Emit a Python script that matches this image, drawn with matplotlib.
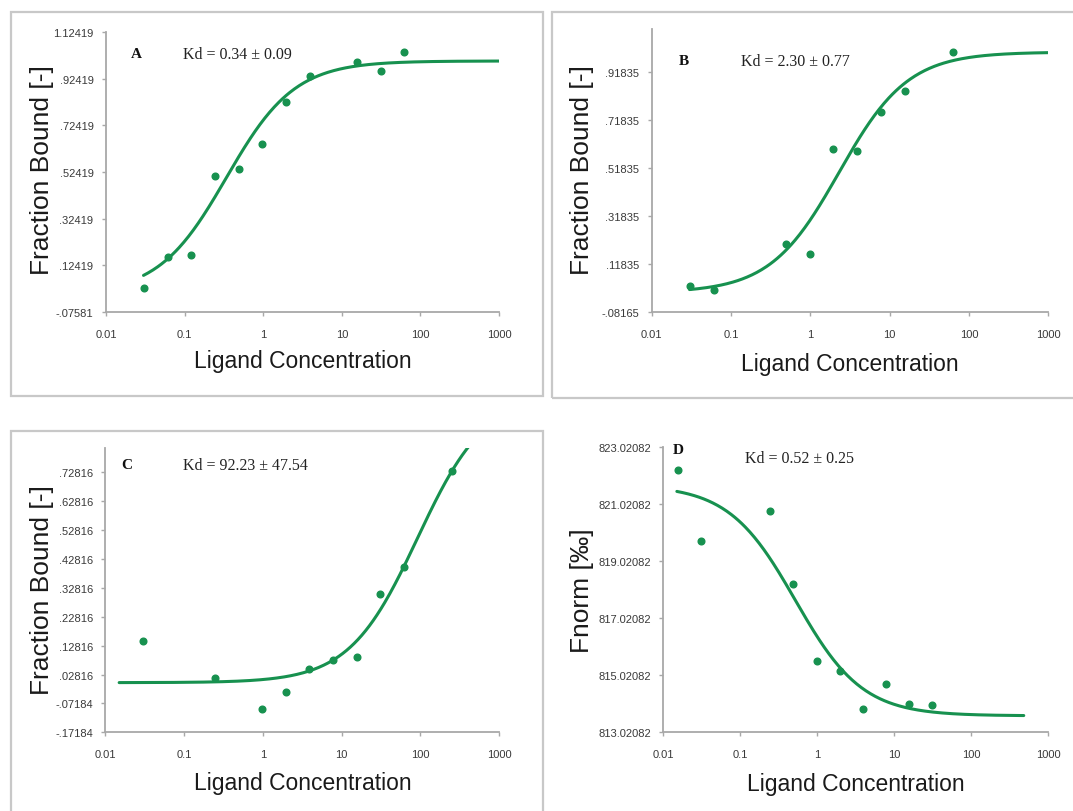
import numpy as np
import matplotlib
matplotlib.use('Agg')
import matplotlib.pyplot as plt
from matplotlib.patches import Rectangle
from matplotlib.ticker import NullLocator

# Figure size in pixels (dpi 100)
W, H = 1073, 812

# Ligand concentrations and responses
conc_a = [0.0305, 0.061, 0.122, 0.244, 0.488, 0.977, 1.95, 3.9, 15.6, 31.25, 62.5]
frac_a = [0.027, 0.158, 0.168, 0.508, 0.537, 0.645, 0.826, 0.934, 0.994, 0.955, 1.039]

conc_b = [0.0305, 0.061, 0.488, 0.977, 1.95, 3.9, 7.8, 15.6, 62.5]
frac_b = [0.027, 0.012, 0.201, 0.162, 0.597, 0.588, 0.752, 0.837, 1.002]

conc_c = [0.0305, 0.244, 0.977, 1.95, 3.9, 7.8, 15.6, 31.25, 62.5, 250]
frac_c = [0.144, 0.015, -0.09, -0.031, 0.047, 0.077, 0.09, 0.308, 0.40, 0.731]

conc_d = [0.0153, 0.0305, 0.244, 0.488, 0.977, 1.95, 3.9, 7.8, 15.6, 31.25]
fnorm_d = [822.23, 819.72, 820.78, 818.22, 815.53, 815.17, 813.83, 814.71, 814.01, 813.99]

# Fit parameters: (Kd, unbound level, saturated level, first conc, last conc)
fit_a = (0.34, 0.0, 1.0, 0.03, 1000)
fit_b = (2.30, 0.0, 1.0, 0.03, 1000)
fit_c = (92.23, 0.0, 1.0, 0.015, 1000)
fit_d = (0.52, 821.7, 813.6, 0.015, 480)

kd_text = ['Kd = 0.34 ± 0.09', 'Kd = 2.30 ± 0.77', 'Kd = 92.23 ± 47.54', 'Kd = 0.52 ± 0.25']
panel_names = ['A', 'B', 'C', 'D']

x_ticks = [0.01, 0.1, 1, 10, 100, 1000]
x_tick_labels = ['0.01', '0.1', '1', '10', '100', '1000']

yt_a = [-0.07581, 0.12419, 0.32419, 0.52419, 0.72419, 0.92419, 1.12419]
ytl_a = ['-.07581', '.12419', '.32419', '.52419', '.72419', '.92419', '1.12419']
yt_b = [-0.08165, 0.11835, 0.31835, 0.51835, 0.71835, 0.91835]
ytl_b = ['-.08165', '.11835', '.31835', '.51835', '.71835', '.91835']
yt_c = [-0.17184, -0.07184, 0.02816, 0.12816, 0.22816, 0.32816, 0.42816, 0.52816, 0.62816, 0.72816]
ytl_c = ['-.17184', '-.07184', '.02816', '.12816', '.22816', '.32816', '.42816', '.52816', '.62816', '.72816']
yt_d = [813.02082, 815.02082, 817.02082, 819.02082, 821.02082, 823.02082]
ytl_d = ['813.02082', '815.02082', '817.02082', '819.02082', '821.02082', '823.02082']

GREEN = '#17914f'
AXCOL = '#a8a8a8'
TXT = '#3a3a3a'

fig = plt.figure(figsize=(W / 100, H / 100), dpi=100)


def px_axes(l, t, r, b):
    return fig.add_axes([l / W, 1 - b / H, (r - l) / W, (b - t) / H])


def ftext(x, y, s, **kw):
    fig.text(x / W, 1 - y / H, s, **kw)


def binding(fit):
    kd, y0, y1, x0, x1 = fit
    x = np.logspace(np.log10(x0), np.log10(x1), 300)
    return x, y0 + (y1 - y0) * x / (x + kd)


def panel(box, conc, vals, fit, yt, ytl, ylim):
    ax = px_axes(*box)
    xs, ys = binding(fit)
    ax.plot(xs, ys, color=GREEN, lw=2.2, solid_capstyle='round')
    ax.plot(conc, vals, 'o', color=GREEN, ms=4.8, mec=GREEN)
    ax.set_xscale('log')
    ax.set_xlim(0.01, 1000)
    ax.set_ylim(*ylim)
    ax.set_xticks(x_ticks)
    ax.set_xticklabels(x_tick_labels)
    ax.xaxis.set_minor_locator(NullLocator())
    ax.set_yticks(yt)
    ax.set_yticklabels(ytl)
    for s in ['top', 'right']:
        ax.spines[s].set_visible(False)
    for s in ['left', 'bottom']:
        ax.spines[s].set_color(AXCOL)
        ax.spines[s].set_linewidth(1.3)
    ax.tick_params(direction='out', length=3, width=1, color=AXCOL,
                   labelcolor=TXT, labelsize=8)
    ax.tick_params(axis='x', pad=9)
    ax.tick_params(axis='y', pad=6)
    for lab in ax.get_xticklabels() + ax.get_yticklabels():
        lab.set_family('Liberation Sans')
    ax.patch.set_alpha(0)
    return ax


panel((106, 33, 499, 313), conc_a, frac_a, fit_a, yt_a, ytl_a, (-0.07581, 1.12419))
panel((651.7, 30, 1048.3, 313.3), conc_b, frac_b, fit_b, yt_b, ytl_b, (-0.08165, 1.096))
panel((105.3, 449.3, 499, 733.3), conc_c, frac_c, fit_c, yt_c, ytl_c, (-0.17184, 0.811))
panel((663.3, 448.3, 1048.3, 733.3), conc_d, fnorm_d, fit_d, yt_d, ytl_d, (813.02082, 823.02082))

# panel frames
for (l, t, r, b) in [(10.7, 13.3, 542.7, 397.3), (552.3, 13.3, 1090, 398.7), (10.7, 432.3, 542.7, 830)]:
    fig.add_artist(Rectangle((l / W, 1 - b / H), (r - l) / W, (b - t) / H,
                             transform=fig.transFigure, fill=False,
                             edgecolor='#c8c8c8', lw=1.6))

# panel letters and Kd values
serif = 'Liberation Serif'
letter_pos = [(136.7, 55), (684, 61.7), (126.7, 466), (678.3, 450)]
kd_pos = [(182.7, 55), (741, 61.7), (183, 466), (745, 459.3)]
for name, (lx, ly), txt, (kx, ky) in zip(panel_names, letter_pos, kd_text, kd_pos):
    ftext(lx, ly, name, family=serif, weight='bold', fontsize=11,
          ha='center', va='center', color='#111111')
    ftext(kx, ky, txt, family=serif, fontsize=11.5, ha='left', va='center',
          color='#222222')

# axis titles
ylab_pos = [(41.7, 170, 'Fraction Bound [-]'), (581.7, 170, 'Fraction Bound [-]'),
            (41.7, 590, 'Fraction Bound [-]'), (581.7, 590.8, 'Fnorm [‰]')]
for x, y, s in ylab_pos:
    ftext(x, y, s, family='Liberation Sans', fontsize=19, rotation=90,
          ha='center', va='center', color='#1a1a1a')
xlab_pos = [(303.3, 361.7), (849.5, 365), (302.5, 783.3), (855.5, 785)]
for x, y in xlab_pos:
    ftext(x, y, 'Ligand Concentration', family='Liberation Sans',
          fontsize=16.5, ha='center', va='center', color='#1a1a1a')

fig.savefig('out.png', dpi=100, facecolor='white')
